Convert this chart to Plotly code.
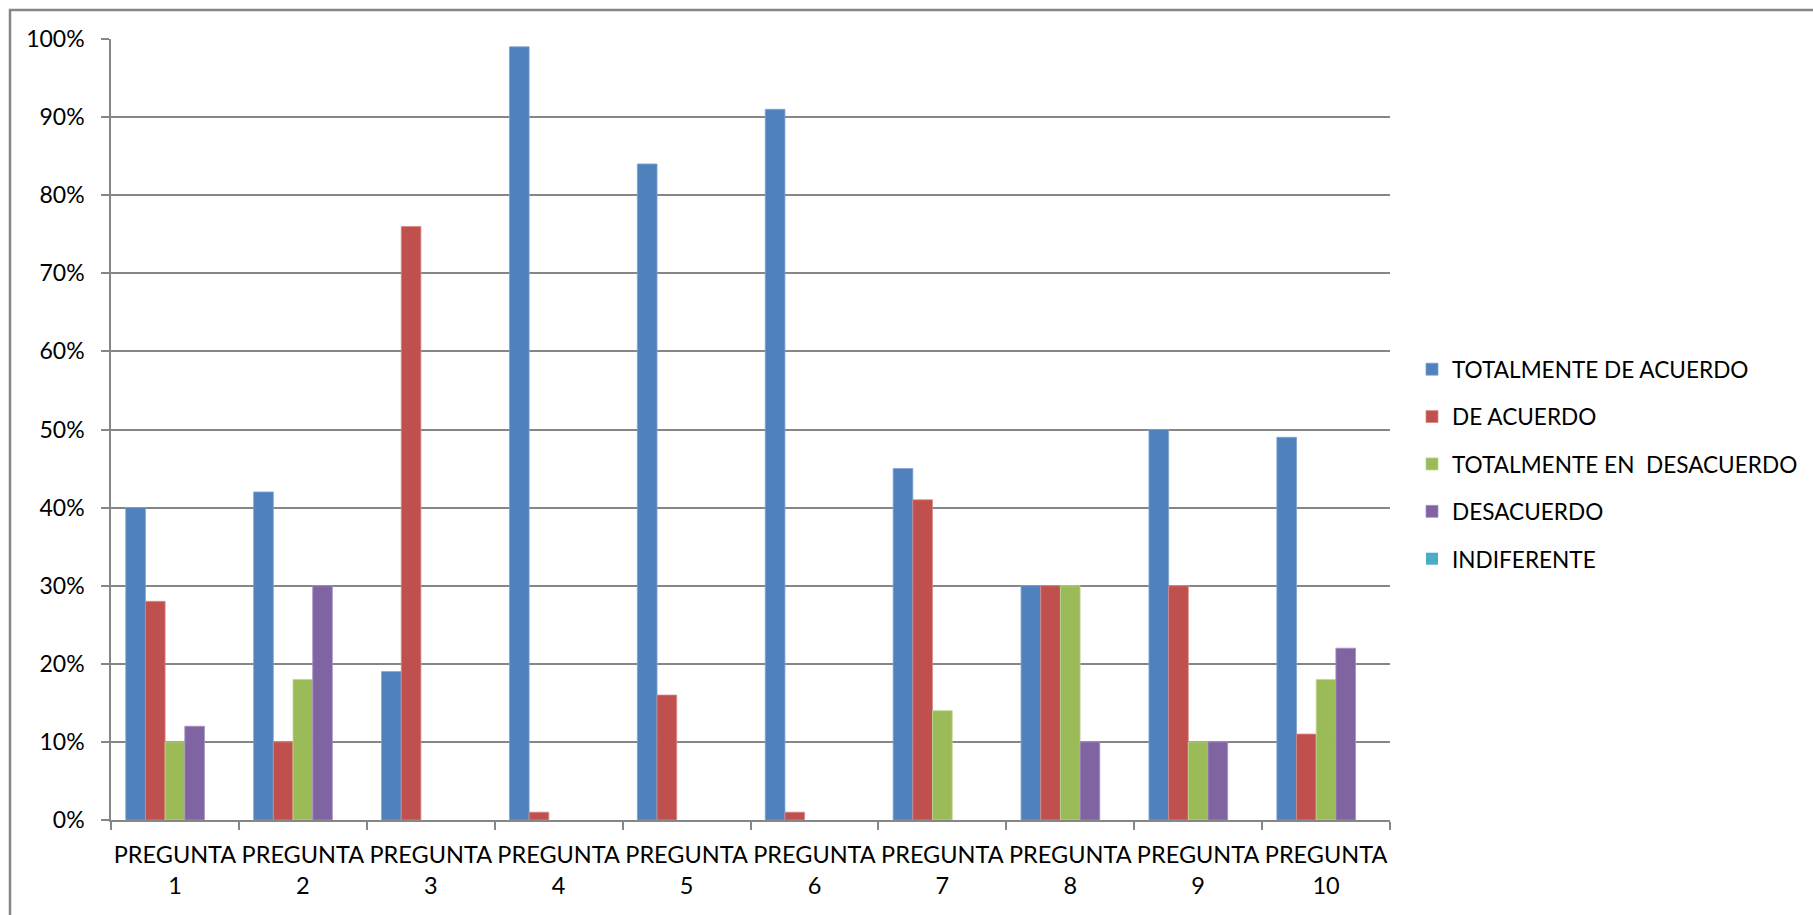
import plotly.graph_objects as go

categories = ["PREGUNTA<br>1", "PREGUNTA<br>2", "PREGUNTA<br>3", "PREGUNTA<br>4", "PREGUNTA<br>5",
              "PREGUNTA<br>6", "PREGUNTA<br>7", "PREGUNTA<br>8", "PREGUNTA<br>9", "PREGUNTA<br>10"]

totalmente_de_acuerdo = [0.40, 0.42, 0.19, 0.99, 0.84, 0.91, 0.45, 0.30, 0.50, 0.49]
de_acuerdo = [0.28, 0.10, 0.76, 0.01, 0.16, 0.01, 0.41, 0.30, 0.30, 0.11]
totalmente_en_desacuerdo = [0.10, 0.18, 0.0, 0.0, 0.0, 0.0, 0.14, 0.30, 0.10, 0.18]
desacuerdo = [0.12, 0.30, 0.0, 0.0, 0.0, 0.0, 0.0, 0.10, 0.10, 0.22]
indiferente = [0.0, 0.0, 0.0, 0.0, 0.0, 0.0, 0.0, 0.0, 0.0, 0.0]

series_names = ["TOTALMENTE DE ACUERDO", "DE ACUERDO", "TOTALMENTE EN \u00a0DESACUERDO",
                "DESACUERDO", "INDIFERENTE"]
series_values = [totalmente_de_acuerdo, de_acuerdo, totalmente_en_desacuerdo, desacuerdo, indiferente]
colors = ["#4F81BD", "#C0504D", "#9BBB59", "#8064A2", "#4BACC6"]
edge_colors = ["#7FA3D0", "#D88A88", "#BDD58F", "#A690C0", "#7FC6D8"]

W, H = 1813, 915
L, R, T, B = 111, 1390, 39, 820

FONT = "Lato, 'Open Sans', sans-serif"

fig = go.Figure()
for i, (name, vals) in enumerate(zip(series_names, series_values)):
    fig.add_trace(go.Bar(
        x=categories, y=vals, name=name,
        marker=dict(color=colors[i],
                    line=dict(color=edge_colors[i], width=[0.8 if v > 0 else 0 for v in vals])),
        legendgroup=f"g{i}",
    ))

def px_x(p):
    return (p - L) / (R - L)

def px_y(p):
    return (B - p) / (B - T)

fig.update_layout(
    width=W, height=H,
    margin=dict(l=L, r=W - R, t=T, b=H - B, autoexpand=False),
    paper_bgcolor="white", plot_bgcolor="white",
    barmode="group", bargap=0.2308, bargroupgap=0,
    font=dict(family=FONT, size=22, color="#000000"),
    showlegend=True,
    legend=dict(
        xref="container", yref="container",
        x=1412 / W, xanchor="left",
        y=1 - 464 / H, yanchor="middle",
        font=dict(family=FONT, size=22.6, color="#000000"),
        tracegroupgap=15, itemwidth=30,
        bgcolor="rgba(0,0,0,0)",
    ),
    xaxis=dict(
        type="category", tickson="boundaries",
        ticks="outside", ticklen=8, tickcolor="#868686", tickwidth=1.5,
        showline=True, linecolor="#868686", linewidth=1.5,
        showgrid=False, tickangle=0, automargin=False,
        tickfont=dict(family=FONT, size=23.5, color="#000000"),
        ticklabelstandoff=13,
    ),
    yaxis=dict(
        range=[0, 1], tickvals=[0, 0.1, 0.2, 0.3, 0.4, 0.5, 0.6, 0.7, 0.8, 0.9, 1.0],
        tickformat=".0%",
        ticks="outside", ticklen=8, tickcolor="#868686", tickwidth=1.5,
        showline=True, linecolor="#868686", linewidth=1.5,
        showgrid=True, gridcolor="#868686", gridwidth=1.5,
        zeroline=False, automargin=False,
        tickfont=dict(family=FONT, size=23, color="#000000"),
        ticklabelstandoff=12,
    ),
    shapes=[dict(
        type="rect", xref="paper", yref="paper",
        x0=px_x(10), x1=px_x(W + 20), y0=px_y(H + 20), y1=px_y(10),
        line=dict(color="#868686", width=2.5), fillcolor="rgba(0,0,0,0)", layer="below",
    )],
)

fig.write_html("out.html")
